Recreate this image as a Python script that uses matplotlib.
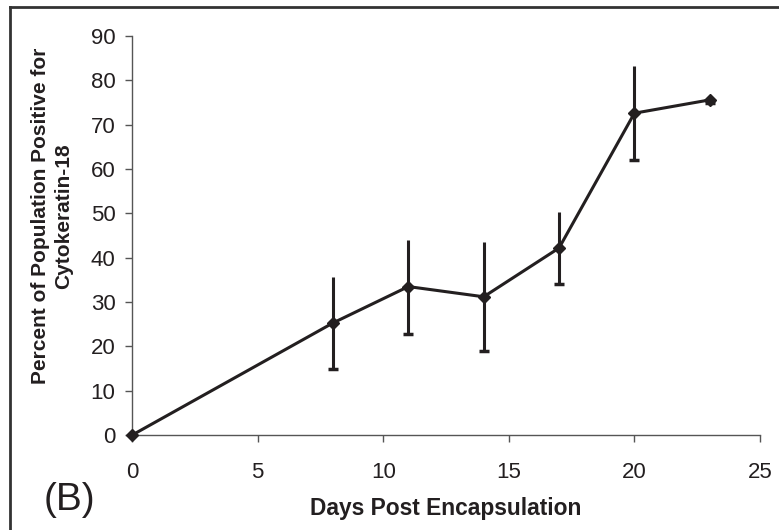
import matplotlib
matplotlib.use("Agg")
import matplotlib.pyplot as plt
from matplotlib.lines import Line2D

# data
days = [0, 8, 11, 14, 17, 20, 23]
percent = [0, 25.3, 33.5, 31.2, 42.2, 72.6, 75.6]
err = [0, 10.4, 10.6, 12.3, 8.2, 10.6, 0.8]

plt.rcParams["font.family"] = ["Liberation Sans", "DejaVu Sans"]

fig = plt.figure(figsize=(7.79, 5.30), dpi=100)
ax = fig.add_axes([0.1695, 0.179, 0.8061, 0.753])

col = "#231f20"
# error bars: plain lines up, capped at the bottom
ax.errorbar(days, percent, yerr=err, fmt="none", ecolor=col, elinewidth=2.2, capsize=0)
lower = [p - e for p, e in zip(percent, err)]
ax.plot(days[1:], lower[1:], linestyle="none", marker="_", markersize=7, markeredgewidth=2.5, color=col)
ax.plot(days, percent, color=col, linewidth=2.2, marker="D", markersize=6.5, clip_on=False, zorder=5)

ax.set_xlim(0, 25)
ax.set_ylim(0, 90)
ax.set_xticks(range(0, 26, 5))
ax.set_yticks(range(0, 91, 10))
for s in ["top", "right"]:
    ax.spines[s].set_visible(False)
for s in ["left", "bottom"]:
    ax.spines[s].set_color("#555555")
    ax.spines[s].set_linewidth(1.0)
ax.tick_params(axis="both", colors="#555555", labelcolor="#231f20", labelsize=16, length=5, width=1)
ax.tick_params(axis="x", pad=14)
ax.tick_params(axis="y", pad=7)

ax.set_xlabel("Days Post Encapsulation", fontsize=16.4, fontweight="bold", color="#231f20")
ax.xaxis.label.set_verticalalignment("center")
ax.xaxis.set_label_coords(0.5, -0.183)
ax.set_ylabel("Percent of Population Positive for\nCytokeratin-18", fontsize=15, fontweight="bold",
              color="#231f20", linespacing=1.3)
ax.yaxis.label.set_verticalalignment("center")
ax.yaxis.label.set_horizontalalignment("center")
ax.yaxis.set_label_coords(-0.127, 0.549)

fig.text(0.0886, 0.057, "(B)", fontsize=28, color="#231f20", ha="center", va="center")

# partial frame around the panel (top and left edges only)
fig.add_artist(Line2D([0.013, 1.0], [0.987, 0.987], color="#333333", linewidth=2))
fig.add_artist(Line2D([0.013, 0.013], [0.0, 0.987], color="#333333", linewidth=2))

fig.savefig("out.png", dpi=100)
